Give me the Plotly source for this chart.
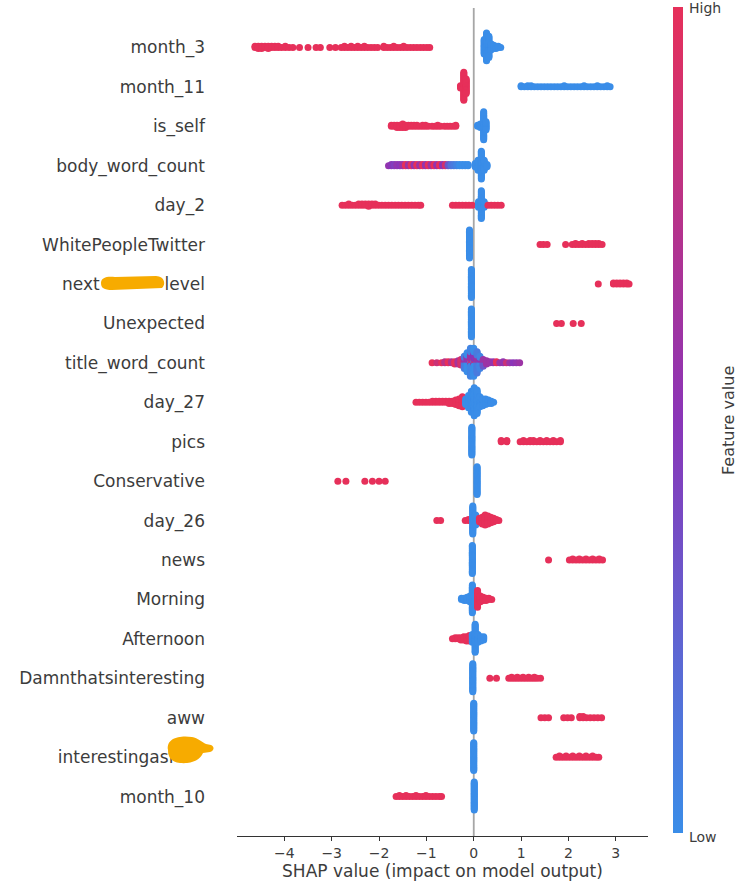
import math
import plotly.graph_objects as go

# ---------------- data ----------------
# each entry: (SHAP value, number of points at that value, feature value 0=low .. 1=high)
features = ["month_3", "month_11", "is_self", "body_word_count", "day_2",
            "WhitePeopleTwitter", "next_level", "Unexpected", "title_word_count",
            "day_27", "pics", "Conservative", "day_26", "news", "Morning",
            "Afternoon", "Damnthatsinteresting", "aww", "interestingas", "month_10"]

NB = "\u00a0"
tick_labels = ["month_3", "month_11", "is_self", "body_word_count", "day_2",
               "WhitePeopleTwitter", "next" + NB * 12 + "level", "Unexpected",
               "title_word_count", "day_27", "pics", "Conservative", "day_26", "news",
               "Morning", "Afternoon", "Damnthatsinteresting", "aww",
               "interestingasf" + NB * 5 + "\u2009", "month_10"]

x_ticks = [-4, -3, -2, -1, 0, 1, 2, 3]

month_3 = [(-4.62, 2, 1), (-4.55, 3, 1), (-4.48, 3, 1), (-4.41, 2, 1), (-4.34, 3, 1), (-4.27, 2, 1),
           (-4.20, 2, 1), (-4.13, 2, 1), (-4.06, 1, 1), (-3.98, 2, 1), (-3.90, 1, 1), (-3.82, 1, 1),
           (-3.68, 1, 1), (-3.50, 1, 1), (-3.33, 1, 1), (-3.24, 1, 1), (-3.04, 1, 1), (-2.92, 1, 1),
           (-2.80, 1, 1), (-2.73, 2, 1), (-2.66, 1, 1), (-2.59, 2, 1), (-2.52, 1, 1), (-2.45, 2, 1),
           (-2.38, 1, 1), (-2.31, 2, 1), (-2.24, 1, 1), (-2.17, 1, 1), (-2.10, 1, 1), (-2.03, 1, 1),
           (-1.90, 2, 1), (-1.83, 1, 1), (-1.76, 1, 1), (-1.69, 2, 1), (-1.62, 1, 1), (-1.55, 1, 1),
           (-1.48, 2, 1), (-1.41, 1, 1), (-1.34, 1, 1), (-1.27, 1, 1), (-1.20, 1, 1), (-1.13, 1, 1),
           (-1.06, 1, 1), (-0.99, 1, 1), (-0.93, 1, 1),
           (0.22, 14, 0), (0.27, 26, 0), (0.32, 20, 0), (0.37, 6, 0), (0.42, 4, 0), (0.47, 3, 0),
           (0.52, 2, 0), (0.57, 1, 0)]

month_11 = [(-0.28, 3, 1), (-0.21, 26, 1), (-0.16, 14, 1),
            (1.00, 2, 0), (1.07, 1, 0), (1.14, 2, 0), (1.21, 2, 0), (1.28, 1, 0), (1.35, 1, 0),
            (1.42, 1, 0), (1.49, 1, 0), (1.56, 1, 0), (1.63, 1, 0), (1.70, 1, 0), (1.77, 1, 0),
            (1.84, 1, 0), (1.91, 2, 0), (1.98, 1, 0), (2.05, 1, 0), (2.12, 1, 0), (2.19, 1, 0),
            (2.26, 1, 0), (2.33, 2, 0), (2.40, 1, 0), (2.47, 1, 0), (2.54, 1, 0), (2.61, 2, 0),
            (2.68, 1, 0), (2.75, 1, 0), (2.82, 2, 0), (2.88, 1, 0)]

is_self = [(-1.74, 2, 1), (-1.68, 2, 1), (-1.62, 3, 1), (-1.56, 3, 1), (-1.50, 4, 1), (-1.44, 3, 1),
           (-1.38, 2, 1), (-1.32, 2, 1), (-1.26, 2, 1), (-1.20, 2, 1), (-1.14, 1, 1), (-1.08, 2, 1),
           (-1.02, 2, 1), (-0.96, 1, 1), (-0.88, 1, 1), (-0.82, 1, 1), (-0.76, 2, 1), (-0.70, 1, 1),
           (-0.62, 1, 1), (-0.56, 1, 1), (-0.50, 1, 1), (-0.44, 1, 1), (-0.38, 2, 1),
           (0.08, 2, 0), (0.14, 4, 0), (0.21, 26, 0), (0.26, 8, 0)]

body_word_count = [(-1.80, 1, 0.55), (-1.74, 2, 0.5), (-1.68, 2, 0.45), (-1.62, 2, 0.55), (-1.56, 2, 0.5),
                   (-1.50, 2, 0.6), (-1.44, 2, 1.0), (-1.38, 2, 0.6), (-1.32, 2, 1.0), (-1.26, 2, 0.55),
                   (-1.20, 2, 1.0), (-1.14, 2, 0.6), (-1.08, 2, 1.0), (-1.02, 2, 0.55), (-0.96, 2, 1.0),
                   (-0.90, 2, 0.6), (-0.84, 2, 1.0), (-0.78, 2, 0.55), (-0.72, 2, 1.0), (-0.66, 2, 0.5),
                   (-0.60, 2, 0.9), (-0.54, 2, 0.3), (-0.48, 2, 0.15), (-0.42, 2, 0.1), (-0.36, 2, 0.05),
                   (-0.30, 2, 0.0), (-0.24, 2, 0.0), (-0.18, 2, 0.0), (-0.12, 2, 0.0),
                   (0.03, 4, 0), (0.09, 10, 0), (0.16, 26, 0), (0.22, 10, 0), (0.28, 3, 0)]

day_2 = [(-2.78, 1, 1), (-2.71, 1, 1), (-2.64, 2, 1), (-2.57, 1, 1), (-2.50, 1, 1), (-2.43, 2, 1),
         (-2.36, 2, 1), (-2.29, 2, 1), (-2.22, 3, 1), (-2.15, 2, 1), (-2.08, 2, 1), (-2.01, 1, 1),
         (-1.94, 1, 1), (-1.87, 1, 1), (-1.80, 1, 1), (-1.73, 1, 1), (-1.66, 1, 1), (-1.59, 1, 1),
         (-1.52, 1, 1), (-1.45, 1, 1), (-1.38, 1, 1), (-1.31, 1, 1), (-1.24, 1, 1), (-1.17, 1, 1),
         (-1.12, 1, 1),
         (-0.45, 1, 1), (-0.38, 1, 1), (-0.31, 1, 1), (-0.24, 1, 1), (-0.17, 1, 1), (-0.10, 1, 1),
         (-0.03, 1, 1),
         (0.10, 6, 0), (0.16, 26, 0), (0.22, 6, 0),
         (0.30, 1, 1), (0.37, 1, 1), (0.44, 1, 1), (0.51, 1, 1), (0.58, 1, 1)]

white_people_twitter = [(-0.09, 26, 0), (1.40, 1, 1), (1.47, 1, 1), (1.55, 1, 1), (1.94, 1, 1),
                        (2.08, 1, 1), (2.15, 2, 1), (2.22, 1, 1), (2.29, 2, 1), (2.36, 1, 1),
                        (2.43, 2, 1), (2.50, 2, 1), (2.57, 2, 1), (2.64, 2, 1), (2.71, 1, 1)]

next_level = [(-0.05, 26, 0), (2.63, 1, 1), (2.95, 2, 1), (3.02, 2, 1), (3.09, 2, 1),
              (3.16, 2, 1), (3.23, 2, 1), (3.28, 1, 1)]

unexpected = [(-0.05, 26, 0), (1.75, 1, 1), (1.85, 1, 1), (2.10, 1, 1), (2.27, 1, 1)]

title_word_count = [(-0.88, 1, 1.0), (-0.78, 1, 0.85), (-0.68, 1, 1.0), (-0.61, 2, 0.75), (-0.54, 2, 1.0),
                    (-0.47, 2, 0.7), (-0.40, 3, 1.0), (-0.33, 4, 0.65), (-0.27, 6, 0.9),
                    (-0.20, 8, 0.1), (-0.20, 4, 0.6),
                    (-0.14, 12, 0.0), (-0.14, 6, 0.55),
                    (-0.07, 16, 0.05), (-0.07, 8, 0.6), (-0.07, 2, 1.0),
                    (0.00, 16, 0.0), (0.00, 8, 0.5), (0.00, 2, 0.9),
                    (0.07, 14, 0.1), (0.07, 6, 0.6),
                    (0.13, 8, 0.05), (0.13, 4, 0.55),
                    (0.20, 4, 0.3), (0.20, 3, 0.6),
                    (0.27, 3, 0.6), (0.27, 1, 1.0),
                    (0.34, 2, 0.6), (0.41, 2, 0.55), (0.48, 2, 1.0), (0.55, 1, 0.6), (0.62, 2, 0.55),
                    (0.69, 1, 0.85), (0.76, 1, 0.6), (0.83, 1, 0.5), (0.90, 1, 0.55), (0.97, 1, 0.6)]

day_27 = [(-1.22, 1, 1), (-1.15, 1, 1), (-1.08, 1, 1), (-1.01, 1, 1), (-0.94, 1, 1), (-0.87, 2, 1),
          (-0.80, 2, 1), (-0.73, 2, 1), (-0.66, 2, 1), (-0.59, 2, 1), (-0.52, 3, 1), (-0.45, 3, 1),
          (-0.38, 5, 1), (-0.31, 7, 1), (-0.24, 10, 1),
          (-0.17, 6, 0), (-0.11, 12, 0), (-0.05, 20, 0), (0.01, 26, 0), (0.07, 22, 0), (0.13, 10, 0),
          (0.19, 7, 0), (0.25, 6, 0), (0.31, 4, 0), (0.37, 3, 0), (0.42, 1, 0)]

pics = [(-0.04, 26, 0), (0.58, 2, 1), (0.70, 2, 1), (0.98, 1, 1), (1.05, 2, 1), (1.12, 1, 1),
        (1.19, 2, 1), (1.26, 2, 1), (1.33, 1, 1), (1.40, 2, 1), (1.47, 1, 1), (1.54, 2, 1),
        (1.61, 1, 1), (1.68, 2, 1), (1.75, 1, 1), (1.83, 2, 1)]

conservative = [(0.07, 26, 0), (-2.87, 1, 1), (-2.70, 1, 1), (-2.30, 1, 1), (-2.14, 1, 1),
                (-2.00, 1, 1), (-1.87, 1, 1)]

day_26 = [(-0.78, 1, 1), (-0.70, 1, 1), (-0.18, 1, 1), (-0.11, 2, 1),
          (-0.02, 26, 0), (0.04, 10, 0),
          (0.12, 4, 1), (0.18, 7, 1), (0.24, 10, 1), (0.30, 8, 1), (0.36, 6, 1), (0.42, 4, 1),
          (0.48, 2, 1), (0.53, 1, 1)]

news = [(-0.03, 26, 0), (1.58, 1, 1), (2.02, 1, 1), (2.09, 2, 1), (2.16, 1, 1), (2.23, 2, 1),
        (2.30, 1, 1), (2.37, 2, 1), (2.44, 1, 1), (2.51, 2, 1), (2.58, 1, 1), (2.65, 2, 1),
        (2.72, 1, 1)]

morning = [(-0.26, 2, 0), (-0.20, 3, 0), (-0.14, 4, 0), (-0.08, 6, 0), (-0.03, 26, 0), (0.02, 6, 0),
           (0.08, 16, 1), (0.14, 6, 1), (0.20, 4, 1), (0.26, 3, 1), (0.32, 2, 1), (0.38, 1, 1)]

afternoon = [(-0.45, 1, 1), (-0.39, 2, 1), (-0.33, 2, 1), (-0.27, 3, 1), (-0.21, 4, 1), (-0.15, 5, 1),
             (-0.09, 6, 1),
             (-0.03, 8, 0), (0.03, 26, 0), (0.09, 8, 0), (0.15, 5, 0), (0.21, 4, 0)]

damnthatsinteresting = [(-0.02, 26, 0), (0.34, 1, 1), (0.48, 1, 1), (0.74, 1, 1), (0.80, 2, 1),
                        (0.86, 1, 1), (0.92, 2, 1), (0.98, 1, 1), (1.04, 2, 1), (1.10, 1, 1),
                        (1.16, 2, 1), (1.22, 1, 1), (1.28, 2, 1), (1.34, 1, 1), (1.41, 1, 1)]

aww = [(0.00, 26, 0), (1.42, 1, 1), (1.50, 1, 1), (1.58, 1, 1), (1.90, 1, 1), (1.98, 1, 1),
       (2.06, 1, 1), (2.24, 2, 1), (2.31, 2, 1), (2.38, 1, 1), (2.46, 1, 1), (2.54, 1, 1),
       (2.62, 1, 1), (2.70, 1, 1)]

interestingas = [(0.00, 26, 0), (1.74, 1, 1), (1.81, 2, 1), (1.88, 1, 1), (1.95, 2, 1), (2.02, 1, 1),
                 (2.09, 2, 1), (2.16, 1, 1), (2.23, 2, 1), (2.30, 1, 1), (2.37, 2, 1), (2.44, 1, 1),
                 (2.51, 2, 1), (2.58, 1, 1), (2.64, 1, 1)]

month_10 = [(0.01, 26, 0), (-1.64, 1, 1), (-1.57, 2, 1), (-1.50, 1, 1), (-1.43, 2, 1), (-1.36, 1, 1),
            (-1.29, 1, 1), (-1.22, 2, 1), (-1.15, 1, 1), (-1.08, 1, 1), (-1.01, 2, 1), (-0.94, 1, 1),
            (-0.87, 1, 1), (-0.80, 1, 1), (-0.73, 1, 1), (-0.68, 1, 1)]

rows = [month_3, month_11, is_self, body_word_count, day_2, white_people_twitter, next_level,
        unexpected, title_word_count, day_27, pics, conservative, day_26, news, morning,
        afternoon, damnthatsinteresting, aww, interestingas, month_10]

# ---------------- styling ----------------
BLUE = "#3a8de8"
PURPLE = "#8a35b8"
RED = "#e6305a"
TXT = "#3c3c3c"
FONT = "DejaVu Sans"

# figure geometry (pixels)
W, H = 741, 888
ML, MR, MT, MB = 237, 93, 8, 52
PW, PH = W - ML - MR, H - MT - MB


def px_x(px):
    return (px - ML) / PW


def px_y(py):
    return (H - MB - py) / PH


def swarm(entries, row):
    """Beeswarm layout (as shap does): points sharing a bin are layered up/down."""
    bins = {}
    for x, n, v in entries:
        bins.setdefault(int(round(x / 0.05)), []).append((x, n, v))
    raw = []
    for b, items in bins.items():
        queues = [[(x, v)] * n for x, n, v in items]
        seq = []
        while any(queues):
            for q in queues:
                if q:
                    seq.append(q.pop())
        for layer, (x, v) in enumerate(seq):
            off = math.ceil(layer / 2) * ((layer % 2) * 2 - 1)
            raw.append((x, off, v))
    mx = max(abs(o) for _, o, _ in raw)
    scale = 0.9 * 0.44 / (mx + 1)
    xs = [p[0] for p in raw]
    ys = [row + p[1] * scale for p in raw]
    cs = [p[2] for p in raw]
    return xs, ys, cs


fig = go.Figure()
n = len(rows)
for i, pts in enumerate(rows):
    xs, ys, cs = swarm(pts, n - 1 - i)
    fig.add_trace(go.Scatter(
        x=xs, y=ys, mode="markers", name=features[i],
        marker=dict(size=7, color=cs, coloraxis="coloraxis", line=dict(width=0)),
        showlegend=False, hoverinfo="skip"))

# zero line behind points
fig.add_shape(type="line", xref="x", yref="paper", x0=0, x1=0, y0=0, y1=1,
              line=dict(color="#a6a6a6", width=1.8), layer="below")


def blob(points):
    d = ""
    for cmd, coords in points:
        d += cmd + " " + " ".join(f"{px_x(a):.5f},{px_y(b):.5f}" for a, b in coords) + " "
    return d + "Z"


# orange redaction scribbles over two labels
scribble1 = blob([("M", [(101, 283)]), ("C", [(101, 277), (108, 276), (115, 277)]),
                  ("L", [(156, 276)]), ("C", [(165, 276), (166, 285), (162, 288)]),
                  ("L", [(112, 290)]), ("C", [(104, 290), (101, 288), (101, 283)])])
scribble2 = blob([("M", [(168, 750)]), ("C", [(166, 738), (180, 735), (192, 737)]),
                  ("C", [(198, 738), (202, 742), (206, 744)]), ("L", [(211, 745)]),
                  ("C", [(215, 747), (214, 751), (210, 752)]), ("L", [(203, 753)]),
                  ("C", [(200, 760), (192, 764), (180, 763)]),
                  ("C", [(171, 762), (168, 757), (168, 750)])])
for path in (scribble1, scribble2):
    fig.add_shape(type="path", xref="paper", yref="paper", path=path,
                  fillcolor="#f7ab00", line=dict(width=0), layer="above")

fig.add_annotation(text="High", xref="paper", yref="paper", x=px_x(687), y=px_y(8),
                   xanchor="left", yanchor="middle", showarrow=False,
                   font=dict(family=FONT, size=14, color=TXT))
fig.add_annotation(text="Low", xref="paper", yref="paper", x=px_x(687), y=px_y(837),
                   xanchor="left", yanchor="middle", showarrow=False,
                   font=dict(family=FONT, size=14, color=TXT))
fig.add_annotation(text="Feature value", xref="paper", yref="paper", x=px_x(728), y=px_y(421),
                   xanchor="center", yanchor="middle", textangle=-90, showarrow=False,
                   font=dict(family=FONT, size=16, color=TXT))

fig.update_layout(
    width=W, height=H,
    margin=dict(l=ML, r=MR, t=MT, b=MB, pad=0, autoexpand=False),
    paper_bgcolor="white", plot_bgcolor="white",
    font=dict(family=FONT, color=TXT),
    coloraxis=dict(
        cmin=0, cmax=1,
        colorscale=[[0, BLUE], [0.5, PURPLE], [1, RED]],
        colorbar=dict(thickness=10, thicknessmode="pixels", len=826, lenmode="pixels",
                      x=px_x(673), xanchor="left", xpad=0, ypad=0,
                      y=px_y(420), yanchor="middle", outlinewidth=0,
                      showticklabels=False, ticks="")),
    xaxis=dict(range=[-5.0, 3.68], tickmode="array", tickvals=x_ticks,
               showgrid=False, zeroline=False, showline=True, linecolor="#333333",
               linewidth=1, ticks="outside", ticklen=4, tickcolor="#333333",
               tickfont=dict(family=FONT, size=14, color=TXT),
               title=dict(text="SHAP value (impact on model output)",
                          font=dict(family=FONT, size=17, color=TXT), standoff=5)),
    yaxis=dict(range=[-1, n], tickmode="array", tickvals=list(range(n)),
               ticktext=tick_labels[::-1], showgrid=False, zeroline=False,
               showline=False, ticks="", ticklabelstandoff=31,
               tickfont=dict(family=FONT, size=17, color=TXT)),
)

fig.write_html("out.html", config={"displayModeBar": False},
               post_script="document.body.style.margin='0px';")
